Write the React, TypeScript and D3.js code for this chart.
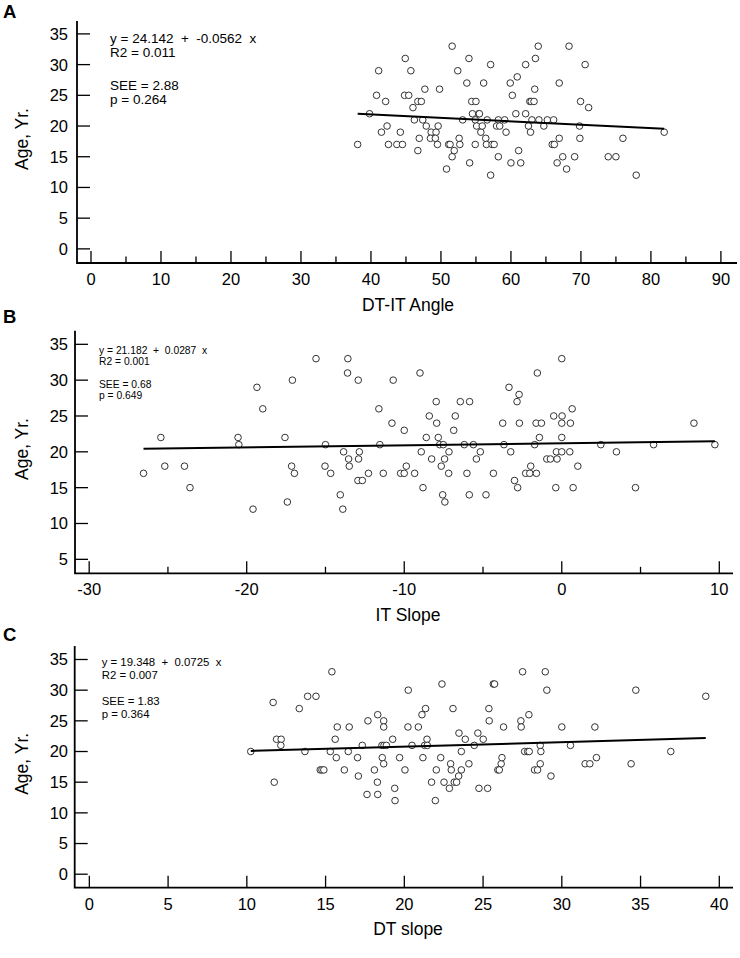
import * as d3 from "d3";
import React from "react";

const FONT = "Arial, 'Liberation Sans', Helvetica, sans-serif";

// Panel A: DT-IT angle vs age
const angleA = [
  38.1, 39.8, 41.1, 40.8, 42.1, 42.3, 41.5, 42.5, 43.7, 44.5, 44.2, 44.9, 44.8, 45.4, 45.7, 46.0,
  46.2, 46.7, 47.2, 47.7, 47.4, 47.9, 46.9, 46.7, 48.6, 48.5, 49.3, 49.2, 49.6, 49.5, 49.8, 50.8,
  51.1, 51.3, 51.9, 51.6, 51.6, 52.4, 52.6, 52.7, 53.1, 53.7, 54.0, 54.1, 54.4, 55.0, 54.5, 54.9,
  55.1, 55.4, 55.5, 55.7, 55.9, 54.9, 56.1, 56.4, 56.6, 56.5, 57.1, 57.3, 57.6, 57.1, 58.2, 57.95,
  58.4, 58.2, 59.1, 59.3, 59.9, 60.2, 60.0, 60.9, 60.7, 61.1, 61.4, 62.1, 62.1, 62.5, 62.7, 62.9,
  62.8, 63.0, 63.3, 63.4, 63.5, 63.9, 64.0, 64.7, 65.2, 66.1, 65.9, 66.2, 66.9, 66.9, 66.6, 67.4,
  67.95, 68.3, 69.1, 69.8, 69.85, 69.95, 70.6, 71.1, 73.9, 75.0, 76.0, 77.9, 81.9,
];
const ageA = [
  17, 22, 29, 25, 24, 20, 19, 17, 17, 17, 19, 31, 25, 25, 29, 23,
  21, 24, 24, 26, 21, 20, 18, 16, 19, 18, 19, 18, 20, 17, 26, 13,
  17, 17, 16, 15, 33, 29, 18, 17, 21, 27, 31, 14, 24, 24, 22, 21,
  20, 22, 22, 19, 20, 17, 27, 18, 21, 17, 30, 17, 17, 12, 21, 20,
  20, 15, 21, 19, 27, 25, 14, 28, 22, 16, 14, 30, 22, 20, 24, 24,
  19, 21, 24, 26, 31, 33, 21, 20, 21, 21, 17, 17, 27, 18, 14, 15,
  13, 33, 15, 20, 18, 24, 30, 23, 15, 15, 18, 12, 19,
];

// Panel B: IT slope vs age
const slopeB = [
  -26.55, -25.45, -25.2, -23.95, -23.6, -20.55, -20.5, -19.6, -19.35, -18.98, -17.57, -17.42, -17.15, -17.1,
  -16.97, -15.6, -15.0, -15.03, -14.67, -14.06, -13.9, -13.85, -13.58, -13.6, -13.53, -13.49, -12.92, -12.85,
  -12.9, -12.94, -12.66, -12.27, -11.61, -11.55, -11.33, -10.78, -10.7, -10.23, -10.0, -10.0, -9.87, -9.34,
  -9.0, -8.92, -8.81, -8.6, -8.41, -8.26, -7.97, -7.94, -7.84, -7.75, -7.52, -7.65, -7.56, -7.42,
  -7.44, -7.16, -7.18, -6.86, -6.76, -6.44, -5.85, -6.19, -6.02, -5.87, -5.61, -5.42, -5.17, -4.81,
  -4.34, -3.75, -3.67, -3.35, -3.24, -3.0, -2.84, -2.71, -2.69, -2.8, -2.29, -2.03, -1.97, -1.72,
  -1.63, -1.61, -1.55, -1.42, -1.29, -0.95, -0.72, -0.51, -0.38, -0.34, -0.3, 0.0, 0.02, 0.0,
  0.0, 0.0, 0.51, 0.55, 0.66, 0.72, 1.02, 2.48, 3.47, 4.68, 5.83, 8.39, 9.72,
];
const ageB = [
  17, 22, 18, 18, 15, 22, 21, 12, 29, 26, 22, 13, 18, 30,
  17, 33, 21, 18, 17, 14, 12, 20, 33, 31, 19, 18, 30, 20,
  19, 16, 16, 17, 26, 21, 17, 24, 30, 17, 23, 17, 18, 17,
  31, 20, 15, 22, 25, 19, 27, 24, 22, 21, 21, 18, 14, 13,
  19, 20, 17, 23, 25, 27, 27, 21, 17, 14, 21, 19, 20, 14,
  17, 24, 21, 29, 20, 16, 27, 28, 24, 15, 17, 17, 18, 21,
  24, 17, 31, 22, 24, 19, 19, 25, 15, 20, 19, 33, 25, 24,
  22, 20, 20, 24, 26, 15, 18, 21, 20, 15, 21, 24, 21,
];

// Panel C: DT slope vs age
const slopeC = [
  10.25, 11.67, 11.74, 11.89, 12.18, 12.16, 13.33, 13.69, 13.86, 14.39, 14.66, 14.77, 14.89, 15.4,
  15.3, 15.61, 15.68, 15.74, 16.19, 16.44, 16.5, 17.03, 17.08, 17.33, 17.63, 17.69, 18.1, 18.29,
  18.31, 18.31, 18.6, 18.69, 18.69, 18.69, 18.58, 18.71, 18.86, 19.26, 19.39, 19.41, 19.7, 20.04,
  20.25, 20.23, 20.49, 20.89, 21.12, 21.35, 21.18, 21.29, 21.44, 21.46, 21.73, 21.97, 22.03, 22.31,
  22.39, 22.52, 22.86, 22.94, 22.98, 23.09, 23.17, 23.32, 23.45, 23.62, 23.62, 23.47, 23.87, 24.1,
  24.44, 24.67, 24.74, 25.01, 25.29, 25.37, 25.39, 25.65, 25.73, 25.94, 26.03, 26.15, 26.2, 26.3,
  27.4, 27.42, 27.51, 27.64, 27.91, 27.83, 27.93, 28.27, 28.46, 28.63, 28.67, 28.63, 28.95, 29.05,
  29.31, 30.0, 30.55, 31.48, 31.78, 32.1, 32.2, 34.4, 34.7, 36.92, 39.14,
];
const ageC = [
  20, 28, 15, 22, 22, 21, 27, 20, 29, 29, 17, 17, 17, 33,
  20, 22, 19, 24, 17, 20, 24, 19, 16, 21, 13, 25, 17, 15,
  13, 26, 19, 18, 25, 24, 21, 21, 21, 22, 14, 12, 19, 17,
  30, 24, 21, 24, 26, 27, 19, 21, 22, 21, 15, 12, 17, 19,
  31, 15, 14, 18, 17, 27, 15, 15, 16, 17, 20, 23, 22, 18,
  21, 23, 14, 22, 14, 27, 25, 31, 31, 17, 17, 18, 19, 24,
  25, 24, 33, 20, 26, 20, 20, 17, 17, 21, 20, 18, 33, 30,
  16, 24, 21, 18, 18, 24, 19, 18, 30, 20, 29,
];

const ageTicksA = [0, 5, 10, 15, 20, 25, 30, 35];
const ageTicksB = [5, 10, 15, 20, 25, 30, 35];
const ageTicksC = [0, 5, 10, 15, 20, 25, 30, 35];
const xMajorA = [0, 10, 20, 30, 40, 50, 60, 70, 80, 90];
const xMinorA = [5, 15, 25, 35, 45, 55, 65, 75, 85];
const xMajorB = [-30, -20, -10, 0, 10];
const xMinorB = [-25, -15, -5, 5];
const xMajorC = [0, 5, 10, 15, 20, 25, 30, 35, 40];

const notesA = ["y = 24.142  +  -0.0562  x", "R2 = 0.011", "SEE = 2.88", "p = 0.264"];
const notesB = ["y = 21.182  +  0.0287  x", "R2 = 0.001", "SEE = 0.68", "p = 0.649"];
const notesC = ["y = 19.348  +  0.0725  x", "R2 = 0.007", "SEE = 1.83", "p = 0.364"];

interface PanelProps {
  label: string;
  labelY: number;
  xs: number[];
  ys: number[];
  intercept: number;
  slope: number;
  xDomain: [number, number];
  xRange: [number, number];
  yDomain: [number, number];
  yRange: [number, number];
  xMajor: number[];
  xMinor: number[];
  yTicks: number[];
  xTitle: string;
  notes: string[];
  noteX: number;
  noteYs: number[];
  noteSize: number;
}

const Panel: React.FC<PanelProps> = (p) => {
  const x = d3.scaleLinear().domain(p.xDomain).range(p.xRange);
  const y = d3.scaleLinear().domain(p.yDomain).range(p.yRange);
  const [x0, x1] = p.xRange;
  const [yBottom, yTop] = p.yRange;
  const ext = d3.extent(p.xs) as [number, number];
  const fit = d3
    .line<number>()
    .x((d) => x(d))
    .y((d) => y(p.intercept + p.slope * d));
  const yMid = (yBottom + yTop) / 2;

  return (
    <g>
      <text x={3} y={p.labelY} fontSize={18.5} fontWeight="bold" fontFamily={FONT}>
        {p.label}
      </text>
      {/* axes */}
      <path d={`M${x0},${yTop}V${yBottom}H${x1}`} fill="none" stroke="#000" strokeWidth={1.8} />
      {p.yTicks.map((t) => (
        <g key={"y" + t}>
          <line x1={x0} x2={x0 + 13} y1={y(t)} y2={y(t)} stroke="#000" strokeWidth={1.3} />
          <text x={68} y={y(t)} dy="0.36em" textAnchor="end" fontSize={16.5} fontFamily={FONT}>
            {t}
          </text>
        </g>
      ))}
      {p.xMajor.map((t) => (
        <g key={"x" + t}>
          <line x1={x(t)} x2={x(t)} y1={yBottom} y2={yBottom - 12} stroke="#000" strokeWidth={1.3} />
          <text x={x(t)} y={yBottom + 22} textAnchor="middle" fontSize={16.5} fontFamily={FONT}>
            {t}
          </text>
        </g>
      ))}
      {p.xMinor.map((t) => (
        <line key={"m" + t} x1={x(t)} x2={x(t)} y1={yBottom} y2={yBottom - 6.5} stroke="#000" strokeWidth={1.3} />
      ))}
      <text
        transform={`translate(28,${yMid - 3}) rotate(-90)`}
        textAnchor="middle"
        fontSize={17.5}
        fontFamily={FONT}
      >
        Age, Yr.
      </text>
      <text x={408} y={yBottom + 47.5} textAnchor="middle" fontSize={17.5} fontFamily={FONT}>
        {p.xTitle}
      </text>
      {p.notes.map((n, i) => (
        <text
          key={n}
          x={p.noteX}
          y={p.noteYs[i]}
          fontSize={p.noteSize}
          fontFamily={FONT}
          style={{ whiteSpace: "pre" }}
        >
          {n}
        </text>
      ))}
      {p.xs.map((v, i) => (
        <circle key={i} cx={x(v)} cy={y(p.ys[i])} r={3.3} fill="#fff" stroke="#333" strokeWidth={1} />
      ))}
      <path d={fit(ext) || ""} fill="none" stroke="#000" strokeWidth={2} />
    </g>
  );
};

export default function App() {
  return (
    <svg
      width={740}
      height={958}
      viewBox="0 0 740 958"
      style={{ position: "absolute", left: 0, top: 0, background: "#fff" }}
    >
      <rect width={740} height={958} fill="#fff" />
      <Panel
        label="A"
        labelY={18}
        xs={angleA}
        ys={ageA}
        intercept={24.142}
        slope={-0.0562}
        xDomain={[-2, 92.3]}
        xRange={[77, 737]}
        yDomain={[-2.3, 37.1]}
        yRange={[263, 21]}
        xMajor={xMajorA}
        xMinor={xMinorA}
        yTicks={ageTicksA}
        xTitle="DT-IT Angle"
        notes={notesA}
        noteX={110}
        noteYs={[42.7, 57.3, 90, 104.3]}
        noteSize={13.5}
      />
      <Panel
        label="B"
        labelY={323}
        xs={slopeB}
        ys={ageB}
        intercept={21.182}
        slope={0.0287}
        xDomain={[-30.9, 10.87]}
        xRange={[75, 733]}
        yDomain={[3.05, 36.9]}
        yRange={[573.3, 330.7]}
        xMajor={xMajorB}
        xMinor={xMinorB}
        yTicks={ageTicksB}
        xTitle="IT Slope"
        notes={notesB}
        noteX={99}
        noteYs={[354, 365.3, 387.7, 398.5]}
        noteSize={10.3}
      />
      <Panel
        label="C"
        labelY={641}
        xs={slopeC}
        ys={ageC}
        intercept={19.348}
        slope={0.0725}
        xDomain={[-0.93, 40.87]}
        xRange={[74.7, 733]}
        yDomain={[-2.2, 37.2]}
        yRange={[887.7, 646]}
        xMajor={xMajorC}
        xMinor={[]}
        yTicks={ageTicksC}
        xTitle="DT slope"
        notes={notesC}
        noteX={101.7}
        noteYs={[666, 678.7, 705.3, 718]}
        noteSize={11.4}
      />
    </svg>
  );
}
